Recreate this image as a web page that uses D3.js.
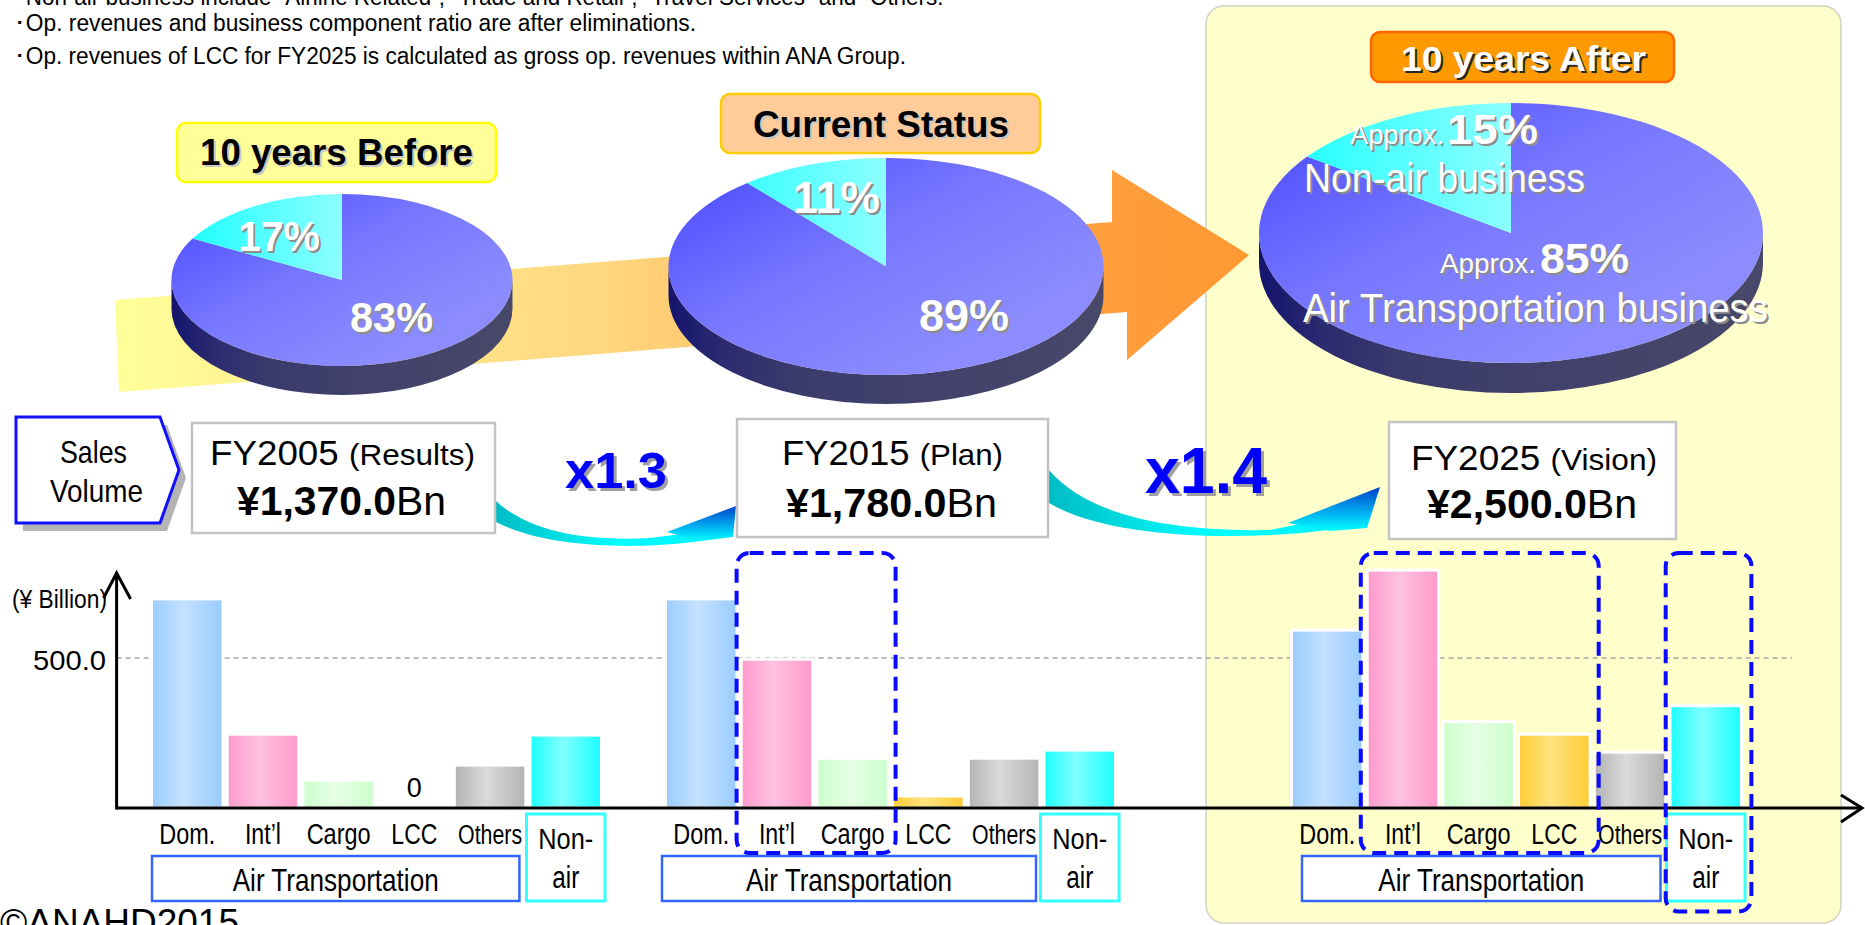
<!DOCTYPE html>
<html>
<head>
<meta charset="utf-8">
<script src="https://cdn.jsdelivr.net/npm/d3@7"></script>
<style>
  html, body { margin: 0; padding: 0; background: #ffffff; overflow: hidden; }
  svg { display: block; }
  text { font-family: "Liberation Sans", Arial, Helvetica, sans-serif; }
</style>
</head>
<body>
<svg id="chart" width="1865" height="925"></svg>
<script>
// ---------------- data ----------------
const notes = [
  "･Non-air business include “Airline Related”, “Trade and Retail”, “Travel Services” and “Others.”",
  "･Op. revenues and business component ratio are after eliminations.",
  "･Op. revenues of LCC for FY2025 is calculated as gross op. revenues within ANA Group."
];
const periodTitles = ["10 years Before", "Current Status", "10 years After"];
const fiscalYears = ["FY2005", "FY2015", "FY2025"];
const planTypes = ["(Results)", "(Plan)", "(Vision)"];
const salesVolume = [1370.0, 1780.0, 2500.0];          // ¥ billion
const growthRates = ["x1.3", "x1.4"];
const airShare = [83, 89, 85];                          // % of op. revenues
const nonAirShare = [17, 11, 15];
const categories = ["Dom.", "Int’l", "Cargo", "LCC", "Others", "Non-air"];
const revenue2005 = [697, 246, 93, 0, 143, 243];        // ¥ billion
const revenue2015 = [697, 496, 166, 40, 166, 193];
const revenue2025 = [593, 793, 288, 246, 186, 341];
const yTicks = [500];
const yUnit = "(¥ Billion)";
const copyright = "©ANAHD2015";

// ---------------- helpers ----------------
const svg = d3.select("#chart");
const defs = svg.append("defs");

function gradient(id, x1, y1, x2, y2, stops, units, transform) {
  const g = defs.append("linearGradient").attr("id", id)
    .attr("gradientUnits", units || "userSpaceOnUse")
    .attr("x1", x1).attr("y1", y1).attr("x2", x2).attr("y2", y2);
  if (transform) g.attr("gradientTransform", transform);
  stops.forEach(([o, c]) => g.append("stop").attr("offset", o).attr("stop-color", c));
  return `url(#${id})`;
}

function addText(parent, o) {
  const draw = (dx, dy, fill) => {
    const t = parent.append("text")
      .attr("x", o.x + dx).attr("y", o.y + dy)
      .attr("font-size", o.size)
      .attr("font-weight", o.weight || "normal")
      .attr("text-anchor", o.anchor || "start")
      .attr("fill", fill);
    if (o.parts) {
      o.parts.forEach(p => t.append("tspan")
        .attr("font-size", p.size || o.size)
        .attr("font-weight", p.weight || o.weight || "normal")
        .text(p.text));
    } else {
      t.text(o.text);
    }
    if (o.width) t.attr("textLength", o.width).attr("lengthAdjust", "spacingAndGlyphs");
    return t;
  };
  if (o.shadow) draw(o.shadow[0], o.shadow[1], o.shadow[2]);
  return draw(0, 0, o.fill || "#000");
}

// right-hand "10 years After" panel
svg.append("rect")
  .attr("x", 1206).attr("y", 6).attr("width", 635).attr("height", 917)
  .attr("rx", 18).attr("fill", "#FFFFCC")
  .attr("stroke", "#D2D2C2").attr("stroke-width", 1.5);

// notes
const noteLayout = [{ y: 5, w: 937 }, { y: 31, w: 682 }, { y: 64, w: 892 }];
notes.forEach((n, i) => addText(svg, { x: 14, y: noteLayout[i].y, text: n, size: 23, width: noteLayout[i].w }));

// big growth arrow behind the pies
const arrowFill = gradient("bigArrow", 115, 0, 1249, 0, [
  [0, "#FFFF99"], [0.4, "#FFDA82"], [0.87, "#FF9E3C"], [1, "#FF9933"]
]);
svg.append("path")
  .attr("d", "M115,300 L1112,222 L1112,170 L1249,255 L1127,360 L1127,312 L119,392 Z")
  .attr("fill", arrowFill);

// ---------------- 3D pies ----------------
const pieLayout = [
  { cx: 342, cy: 280, rx: 170.5, ry: 86, depth: 29 },
  { cx: 886, cy: 266.5, rx: 217.5, ry: 108.5, depth: 29 },
  { cx: 1511, cy: 233, rx: 252, ry: 130, depth: 30 }
];
const pie = d3.pie().sort(null).value(d => d);

pieLayout.forEach((p, i) => {
  const { cx, cy, rx, ry, depth } = p;
  const g = svg.append("g");
  const sideFill = gradient(`side${i}`, cx - rx, 0, cx + rx, 0, [
    [0, "#14146E"], [0.12, "#2A2A70"], [0.3, "#3C3C6C"], [1, "#48486A"]
  ]);
  // shading of the top face, defined in unit-ellipse space
  const topFill = gradient(`top${i}`, -1.23, -1.14, 0.58, 0.54, [
    [0, "#3030FF"], [0.3, "#5A5AFF"], [0.6, "#7878FF"], [1, "#8C8CFF"]
  ], "userSpaceOnUse", `translate(${cx},${cy}) scale(${rx},${ry})`);
  const cyanFill = gradient(`cyan${i}`, cx - 0.9 * rx, 0, cx, 0, [
    [0, "#1EFFFF"], [1, "#8CFFFF"]
  ]);
  g.append("path")
    .attr("d", `M${cx - rx},${cy} A${rx},${ry} 0 0 0 ${cx + rx},${cy} L${cx + rx},${cy + depth} A${rx},${ry} 0 0 1 ${cx - rx},${cy + depth} Z`)
    .attr("fill", sideFill);
  const pt = a => [cx + rx * Math.sin(a), cy - ry * Math.cos(a)];
  pie([airShare[i], nonAirShare[i]]).forEach((a, k) => {
    const [x0, y0] = pt(a.startAngle), [x1, y1] = pt(a.endAngle);
    const large = a.endAngle - a.startAngle > Math.PI ? 1 : 0;
    g.append("path")
      .attr("d", `M${cx},${cy} L${x0},${y0} A${rx},${ry} 0 ${large} 1 ${x1},${y1} Z`)
      .attr("fill", k === 0 ? topFill : cyanFill);
  });
});

// period title boxes
const titleLayout = [
  { x: 177, y: 123, w: 319, h: 59, fill: "#FFFF99", stroke: "#FFFF00", tx: 200, ty: 165, tw: 273, size: 36, color: "#000", shadow: "#C8C8C8" },
  { x: 721, y: 94, w: 319, h: 59, fill: "#FFCC99", stroke: "#FFCC00", tx: 753, ty: 137, tw: 256, size: 36, color: "#000", shadow: "#C8C8C8" },
  { x: 1371, y: 32, w: 303, h: 50, fill: "#FF9900", stroke: "#FF6600", tx: 1401, ty: 71, tw: 245, size: 35, color: "#FFF", shadow: "#262626" }
];
periodTitles.forEach((t, i) => {
  const b = titleLayout[i];
  svg.append("rect").attr("x", b.x).attr("y", b.y).attr("width", b.w).attr("height", b.h)
    .attr("rx", 9).attr("fill", b.fill).attr("stroke", b.stroke).attr("stroke-width", 2.5);
  addText(svg, { x: b.tx, y: b.ty, text: t, size: b.size, weight: "bold", width: b.tw, fill: b.color, shadow: [2, 2, b.shadow] });
});

// pie percentage labels
const pctShadow = [2, 2, "#8C8C8C"];
const pctLayout = [
  { non: { x: 238, y: 251, w: 82 }, air: { x: 350, y: 332, w: 83 }, size: 42 },
  { non: { x: 793, y: 213, w: 87 }, air: { x: 919, y: 331, w: 90 }, size: 45 }
];
pctLayout.forEach((p, i) => {
  addText(svg, { x: p.non.x, y: p.non.y, text: nonAirShare[i] + "%", size: p.size, weight: "bold", width: p.non.w, fill: "#FFF", shadow: pctShadow });
  addText(svg, { x: p.air.x, y: p.air.y, text: airShare[i] + "%", size: p.size, weight: "bold", width: p.air.w, fill: "#FFF", shadow: pctShadow });
});
// vision pie labels
addText(svg, { x: 1350, y: 144, text: "Approx.", size: 27, width: 94, fill: "#FFF", shadow: pctShadow });
addText(svg, { x: 1447, y: 144, text: nonAirShare[2] + "%", size: 42, weight: "bold", width: 91, fill: "#FFF", shadow: pctShadow });
addText(svg, { x: 1304, y: 192, text: "Non-air business", size: 40, width: 281, fill: "#FFF", shadow: pctShadow });
addText(svg, { x: 1440, y: 273, text: "Approx.", size: 27, width: 96, fill: "#FFF", shadow: pctShadow });
addText(svg, { x: 1540, y: 273, text: airShare[2] + "%", size: 42, weight: "bold", width: 89, fill: "#FFF", shadow: pctShadow });
addText(svg, { x: 1303, y: 322, text: "Air Transportation business", size: 40, width: 465, fill: "#FFF", shadow: pctShadow });

// ---------------- sales volume row ----------------
const tag = "M16,417 L160,417 L179,470 L160,523 L16,523 Z";
svg.append("path").attr("d", tag).attr("transform", "translate(7,8)").attr("fill", "#B4B4B4");
svg.append("path").attr("d", tag).attr("fill", "#FFF").attr("stroke", "#1010FF").attr("stroke-width", 3);
addText(svg, { x: 60, y: 463, text: "Sales", size: 32, width: 67 });
addText(svg, { x: 50, y: 502, text: "Volume", size: 32, width: 93 });

// curved growth arrows
const swooshes = [
  { x0: 496, x1: 720,
    shaft: "M496,501 C525,528 575,542 650,538 L690,533 L720,538 C640,552 545,548 496,522 Z",
    head: "M667,532 L736,506 L733,537 L700,541 Z", hy0: 541, hy1: 506 },
  { x0: 1049, x1: 1343,
    shaft: "M1049,470 C1085,512 1160,532 1270,530 L1310,522 L1343,528 C1250,542 1110,540 1049,503 Z",
    head: "M1288,523 L1380,487 L1367,528 L1330,531 Z", hy0: 531, hy1: 487 }
];
swooshes.forEach((s, i) => {
  const sf = gradient(`shaft${i}`, s.x0, 0, s.x1, 0, [[0, "#00BCC4"], [0.55, "#00FFFF"], [1, "#00F0FF"]]);
  const hf = gradient(`head${i}`, 0, s.hy0, 0, s.hy1, [[0, "#00FFFF"], [0.45, "#00A8F0"], [1, "#0040C8"]]);
  svg.append("path").attr("d", s.shaft).attr("fill", sf);
  svg.append("path").attr("d", s.head).attr("fill", hf);
});

const fyLayout = [
  { box: [192, 423, 303, 110], l1: { x: 210, y: 465, w: 265 }, l2: { x: 237, y: 515, w: 209 } },
  { box: [737, 419, 311, 118], l1: { x: 782, y: 465, w: 221 }, l2: { x: 786, y: 517, w: 211 } },
  { box: [1389, 422, 287, 117], l1: { x: 1411, y: 470, w: 246 }, l2: { x: 1427, y: 518, w: 210 } }
];
const fmtSales = d3.format(",.1f");
fiscalYears.forEach((fy, i) => {
  const f = fyLayout[i];
  svg.append("rect").attr("x", f.box[0]).attr("y", f.box[1]).attr("width", f.box[2]).attr("height", f.box[3])
    .attr("fill", "#FFF").attr("stroke", "#C4C4C4").attr("stroke-width", 2.5);
  addText(svg, { x: f.l1.x, y: f.l1.y, size: 35, width: f.l1.w,
    parts: [{ text: fy + " " }, { text: planTypes[i], size: 30 }] });
  addText(svg, { x: f.l2.x, y: f.l2.y, size: 40, width: f.l2.w,
    parts: [{ text: "¥" + fmtSales(salesVolume[i]), weight: "bold" }, { text: "Bn" }] });
});

const growthLayout = [{ x: 565, y: 488, w: 102, size: 50 }, { x: 1145, y: 493, w: 122, size: 64 }];
growthRates.forEach((g, i) => {
  const l = growthLayout[i];
  addText(svg, { x: l.x, y: l.y, text: g, size: l.size, weight: "bold", width: l.w, fill: "#0000FF", shadow: [3, 3, "#A0A0A0"] });
});

// ---------------- revenue bars ----------------
const axisX = 116.6, baseY = 808;
const y = d3.scaleLinear().domain([0, 500]).range([baseY, 658]);
const groups = [
  { start: 151.5, values: revenue2005, airBox: [0.5, -6.4] },
  { start: 665.5, values: revenue2015, airBox: [-3.5, -3.8] },
  { start: 1291.5, values: revenue2025, airBox: [10.5, -5.3] }
];
const barColors = [
  ["#99CCFF", "#C4E1FF"], ["#FF99CC", "#FFC2E0"], ["#CCFFCC", "#E6FFE6"],
  ["#FFCC33", "#FFE37F"], ["#B3B3B3", "#DADADA"], ["#1AFFFF", "#80FFFF"]
];
const barFill = barColors.map((c, i) => gradient(`bar${i}`, 0, 0, 1, 0,
  [[0, c[0]], [0.45, c[1]], [1, c[0]]], "objectBoundingBox"));

// gridline
yTicks.forEach(t => {
  svg.append("line").attr("x1", axisX).attr("x2", 1792).attr("y1", y(t)).attr("y2", y(t))
    .attr("stroke", "#A6A6A6").attr("stroke-width", 1.5).attr("stroke-dasharray", "5,4");
  addText(svg, { x: 33, y: y(t) + 12, text: d3.format(".1f")(t), size: 28, width: 73 });
});
addText(svg, { x: 12, y: 608, text: yUnit, size: 26, width: 95 });

const labelStyle = {
  "Dom.": { w: 56, size: 30 }, "Int’l": { w: 36, size: 30 }, "Cargo": { w: 64, size: 30 },
  "LCC": { w: 46, size: 30 }, "Others": { w: 64, size: 27 }
};
groups.forEach((grp) => {
  const x = d3.scaleBand().domain(categories).range([grp.start, grp.start + 450]).paddingInner(0.0555);
  grp.x = x;
  const bw = x.bandwidth();
  grp.values.forEach((v, k) => {
    if (v <= 0) return;
    svg.append("rect")
      .attr("x", x(categories[k])).attr("y", y(v))
      .attr("width", bw).attr("height", baseY - y(v))
      .attr("fill", barFill[k]).attr("stroke", "#FFF").attr("stroke-width", 3);
  });
  grp.values.forEach((v, k) => {
    if (v === 0) addText(svg, { x: x(categories[k]) + bw / 2, y: 797, text: "0", size: 27, anchor: "middle" });
  });
  // category labels
  categories.slice(0, 5).forEach(c => {
    const s = labelStyle[c];
    addText(svg, { x: x(c) + bw / 2 - s.w / 2, y: 844, text: c, size: s.size, width: s.w });
  });
  // group boxes
  const ax0 = x(categories[0]) + grp.airBox[0];
  const ax1 = x(categories[4]) + bw + grp.airBox[1];
  svg.append("rect").attr("x", ax0).attr("y", 856).attr("width", ax1 - ax0).attr("height", 45)
    .attr("fill", "#FFF").attr("stroke", "#3366FF").attr("stroke-width", 2.5);
  addText(svg, { x: (ax0 + ax1) / 2 - 103, y: 891, text: "Air Transportation", size: 32, width: 206 });
  const nx = x(categories[5]);
  svg.append("rect").attr("x", nx - 3.5).attr("y", 814).attr("width", bw + 7).attr("height", 87)
    .attr("fill", "#FFF").attr("stroke", "#33FFFF").attr("stroke-width", 3);
  addText(svg, { x: nx + bw / 2 - 27.5, y: 849, text: "Non-", size: 30, width: 55 });
  addText(svg, { x: nx + bw / 2 - 13.5, y: 888, text: "air", size: 31, width: 27 });
});

// axes
svg.append("line").attr("x1", axisX).attr("x2", axisX).attr("y1", baseY + 1.5).attr("y2", 573)
  .attr("stroke", "#000").attr("stroke-width", 3);
svg.append("path").attr("d", `M${axisX - 13},598 L${axisX},573 L${axisX + 14},599`)
  .attr("fill", "none").attr("stroke", "#000").attr("stroke-width", 3);
svg.append("line").attr("x1", axisX).attr("x2", 1862).attr("y1", baseY).attr("y2", baseY)
  .attr("stroke", "#000").attr("stroke-width", 3);
svg.append("path").attr("d", `M1841,795 L1862,${baseY} L1841,822`)
  .attr("fill", "none").attr("stroke", "#000").attr("stroke-width", 3);

// focus areas (dashed outlines)
const focus = [
  { g: 1, from: "Int’l", to: "Cargo", padL: 4.6, padR: 7.2, y0: 553, y1: 853 },
  { g: 2, from: "Int’l", to: "LCC", padL: 6.4, padR: 8.6, y0: 553, y1: 853 },
  { g: 2, from: "Non-air", to: "Non-air", padL: 4.3, padR: 9.9, y0: 553, y1: 911.5 }
];
focus.forEach(f => {
  const x = groups[f.g].x;
  const x0 = x(f.from) - f.padL, x1 = x(f.to) + x.bandwidth() + f.padR;
  svg.append("rect").attr("x", x0).attr("y", f.y0).attr("width", x1 - x0).attr("height", f.y1 - f.y0)
    .attr("rx", 13).attr("fill", "none").attr("stroke", "#0A0AFF")
    .attr("stroke-width", 4).attr("stroke-dasharray", "14,8");
});

addText(svg, { x: 0, y: 935, text: copyright, size: 37, width: 239 });
</script>
</body>
</html>
